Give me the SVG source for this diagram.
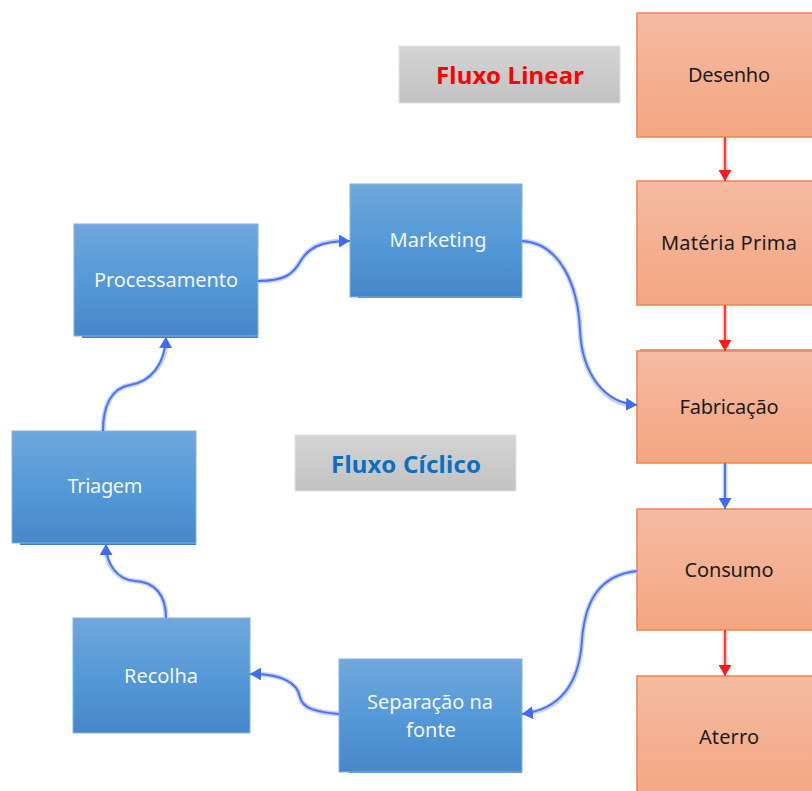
<svg xmlns="http://www.w3.org/2000/svg" width="812" height="791" viewBox="0 0 812 791">
  <defs>
    <linearGradient id="gBlue" x1="0" y1="0" x2="0" y2="1">
      <stop offset="0" stop-color="#70a7dc"/>
      <stop offset="0.5" stop-color="#5599d8"/>
      <stop offset="1" stop-color="#4687c9"/>
    </linearGradient>
    <linearGradient id="gOrange" x1="0" y1="0" x2="0" y2="1">
      <stop offset="0" stop-color="#f5bba2"/>
      <stop offset="1" stop-color="#f4a581"/>
    </linearGradient>
    <linearGradient id="gGray" x1="0" y1="0" x2="0" y2="1">
      <stop offset="0" stop-color="#d4d4d4"/>
      <stop offset="1" stop-color="#c2c2c2"/>
    </linearGradient>
    <marker id="arrBlue" markerUnits="userSpaceOnUse" viewBox="0 0 11 13" refX="11" refY="6.5" markerWidth="11" markerHeight="13" orient="auto">
      <path d="M0,0 L11,6.5 L0,13 z" fill="#3f6cf2"/>
    </marker>
    <marker id="arrRed" markerUnits="userSpaceOnUse" viewBox="0 0 11 13" refX="11" refY="6.5" markerWidth="11" markerHeight="13" orient="auto">
      <path d="M0,0 L11,6.5 L0,13 z" fill="#ff1a1a"/>
    </marker>
    <style>
      .blue rect.box { fill: url(#gBlue); stroke: #86b2e4; stroke-width: 1; }
      .blue rect.shade { fill: #3f7dcc; }
      .blue text { fill: #f2f6fb; font-family: "Noto Sans", "Open Sans", sans-serif; font-size: 20px; text-anchor: middle; }
      .orange rect { fill: url(#gOrange); stroke: #ee8448; stroke-width: 1.5; }
      .orange text { fill: #1c1c1c; font-family: "Noto Sans", "Open Sans", sans-serif; font-size: 20px; text-anchor: middle; }
      .tag rect { fill: url(#gGray); stroke: #e2e2e2; stroke-width: 1; }
      .tag text { font-family: "Noto Sans", "Open Sans", sans-serif; font-size: 24px; font-weight: bold; text-anchor: middle; }
      .glowB { fill: none; stroke: #a9bff9; stroke-width: 5; stroke-opacity: 0.7; }
      .coreB { fill: none; stroke: #4a72f2; stroke-width: 2; marker-end: url(#arrBlue); }
      .glowR { fill: none; stroke: #ffb3b3; stroke-width: 5; stroke-opacity: 0.7; }
      .coreR { fill: none; stroke: #ff3b3b; stroke-width: 2; marker-end: url(#arrRed); }
    </style>
  </defs>

  <rect width="812" height="791" fill="#ffffff"/>

  <!-- Title tags -->
  <g id="tag-linear" class="tag">
    <rect x="399" y="46" width="221" height="57"/>
    <text x="510" y="84" fill="#ff0000" textLength="148">Fluxo Linear</text>
  </g>
  <g id="tag-ciclico" class="tag">
    <rect x="295" y="435" width="221" height="56"/>
    <text x="406" y="473" fill="#0a6fc2" textLength="150">Fluxo Cíclico</text>
  </g>

  <!-- Linear flow (right column) -->
  <line x1="640" y1="350" x2="812" y2="350" stroke="#6f8ff5" stroke-width="1.5"/>
  <g id="desenho" class="orange">
    <rect x="637" y="13" width="185" height="124"/>
    <text x="729" y="82" textLength="82">Desenho</text>
  </g>
  <g id="materia-prima" class="orange">
    <rect x="637" y="181" width="185" height="124"/>
    <text x="729" y="250" textLength="136">Matéria Prima</text>
  </g>
  <g id="fabricacao" class="orange">
    <rect x="637" y="351" width="185" height="112"/>
    <text x="729" y="414" textLength="99">Fabricação</text>
  </g>
  <g id="consumo" class="orange">
    <rect x="637" y="509" width="185" height="121"/>
    <text x="729" y="577" textLength="89">Consumo</text>
  </g>
  <g id="aterro" class="orange">
    <rect x="637" y="676" width="185" height="130"/>
    <text x="729" y="744" textLength="60">Aterro</text>
  </g>

  <!-- Cyclic flow (blue boxes) -->
  <g id="marketing" class="blue">
    <rect class="shade" x="358" y="296" width="164" height="2"/>
    <rect class="box" x="350" y="184" width="172" height="113"/>
    <text x="438" y="247" textLength="97">Marketing</text>
  </g>
  <g id="processamento" class="blue">
    <rect class="shade" x="82" y="335" width="176" height="3"/>
    <rect class="box" x="74" y="224" width="184" height="112"/>
    <text x="166" y="287" textLength="144">Processamento</text>
  </g>
  <g id="triagem" class="blue">
    <rect class="shade" x="20" y="542" width="176" height="3"/>
    <rect class="box" x="12" y="431" width="184" height="112"/>
    <text x="105" y="493" textLength="75">Triagem</text>
  </g>
  <g id="recolha" class="blue">
    <rect class="box" x="73" y="618" width="177" height="115"/>
    <text x="161" y="683" textLength="74">Recolha</text>
  </g>
  <g id="separacao" class="blue">
    <rect class="shade" x="349" y="771" width="173" height="2"/>
    <rect class="box" x="339" y="659" width="183" height="113"/>
    <text x="430" y="709" textLength="126">Separação na</text>
    <text x="431" y="737" textLength="50">fonte</text>
  </g>

  <!-- Connectors -->
  <g id="connectors">
    <!-- linear flow, red -->
    <path class="glowR" d="M725,137 L725,176"/>
    <path class="coreR" d="M725,137 L725,181"/>
    <path class="glowR" d="M725,305 L725,346"/>
    <path class="coreR" d="M725,305 L725,351"/>
    <path class="glowR" d="M725,630 L725,671"/>
    <path class="coreR" d="M725,630 L725,676"/>

    <!-- Fabricação to Consumo, blue -->
    <path class="glowB" d="M725,463 L725,504"/>
    <path class="coreB" d="M725,463 L725,509"/>

    <!-- cyclic loop -->
    <path class="glowB" d="M258,281 C285,281 293,274 300,262 C308,248 320,241 345,241"/>
    <path class="coreB" d="M258,281 C285,281 293,274 300,262 C308,248 320,241 350,241"/>

    <path class="glowB" d="M522,241 C560,243 578,285 580,330 C582,375 605,403 632,405"/>
    <path class="coreB" d="M522,241 C560,243 578,285 580,330 C582,375 605,403 637,405"/>

    <path class="glowB" d="M637,571 C600,575 585,600 582,640 C579,690 555,710 527,713"/>
    <path class="coreB" d="M637,571 C600,575 585,600 582,640 C579,690 555,710 522,714"/>

    <path class="glowB" d="M339,714 C315,712 302,708 300,697 C297,682 280,674 255,674"/>
    <path class="coreB" d="M339,714 C315,712 302,708 300,697 C297,682 280,674 250,674"/>

    <path class="glowB" d="M166,618 C166,595 155,582 135,581 C118,580 106,565 106,549"/>
    <path class="coreB" d="M166,618 C166,595 155,582 135,581 C118,580 106,565 106,544"/>

    <path class="glowB" d="M103,431 C103,405 112,388 130,385 C150,382 165,365 166,342"/>
    <path class="coreB" d="M103,431 C103,405 112,388 130,385 C150,382 165,365 166,337"/>
  </g>
</svg>
